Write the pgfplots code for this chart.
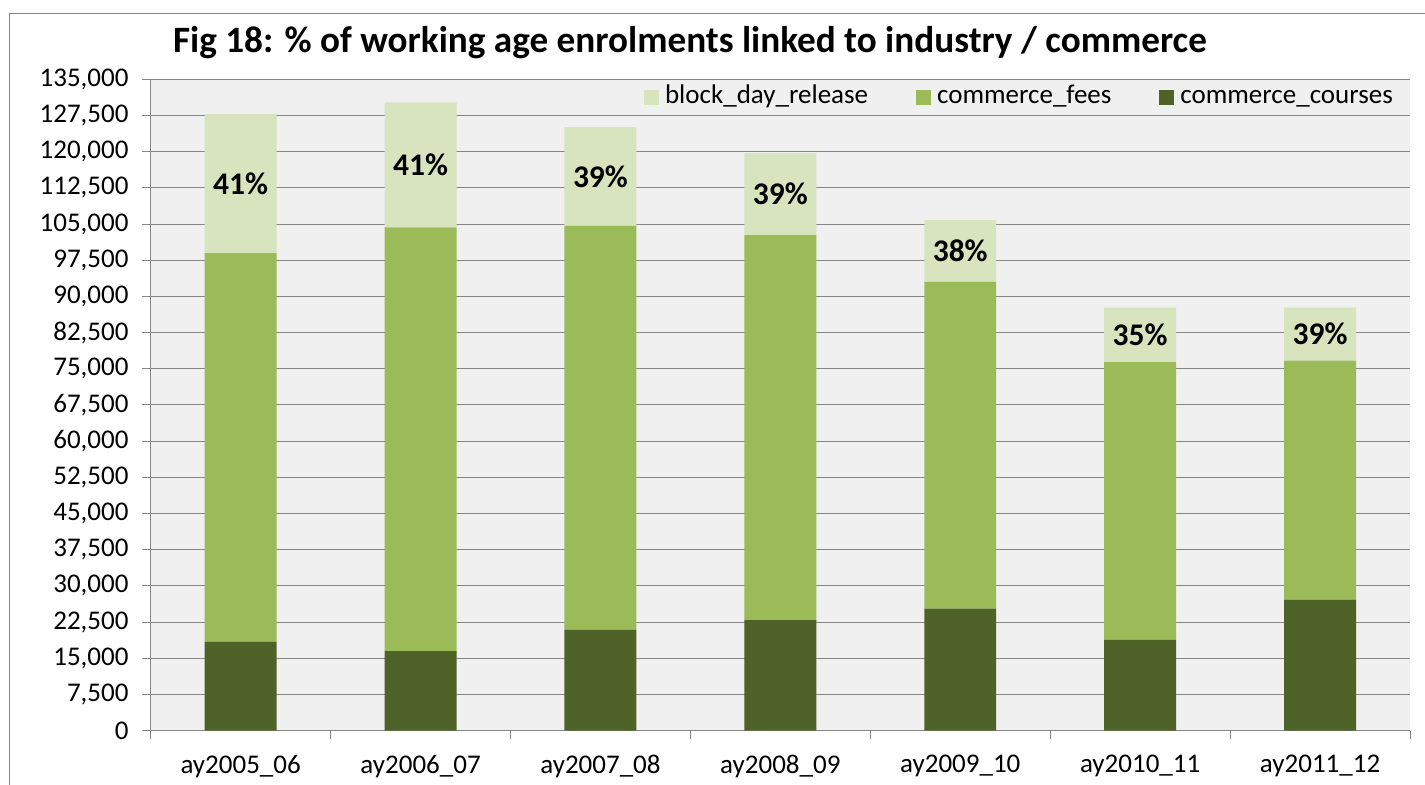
\documentclass[border=0pt]{standalone}
\usepackage{fontspec}
\setmainfont{Carlito}
\usepackage{pgfplots}
\usepackage{pgfplotstable}
\pgfplotsset{compat=1.18}
\definecolor{cbdr}{HTML}{D7E4BD}
\definecolor{cfees}{HTML}{9BBB59}
\definecolor{ccourses}{HTML}{4F6228}
\definecolor{gridc}{HTML}{868686}
\definecolor{plotbg}{HTML}{F0F0F0}

\pgfplotstableread{
x courses fees block
0 18400 80600 28800
1 16500 87800 25900
2 20900 83700 20500
3 22900 79800 17000
4 25300 67700 12800
5 18900 57500 11300
6 27100 49600 11000
}\datatable

\pgfplotstableread{
x y label
0 113400 41\%
1 117250 41\%
2 114850 39\%
3 111200 39\%
4 99400 38\%
5 82050 35\%
6 82200 39\%
}\labeltable

\pgfplotsset{sqleg/.style={legend image code/.code={\fill[##1,draw=none] (0bp,-7.5bp) rectangle (15bp,7.5bp);}}}

\begin{document}
\begin{tikzpicture}
\useasboundingbox (0,0) rectangle (1425bp,785bp);
\fill[white] (0,0) rectangle (1425bp,785bp);
\draw[gridc, line width=1bp] (9.3bp,0) -- (9.3bp,771.7bp) -- (1425bp,771.7bp);
\node[anchor=base, font=\bfseries\fontsize{37.2bp}{40bp}\selectfont] at (690bp,732.7bp) {Fig 18: \% of working age enrolments linked to industry / commerce};
\begin{axis}[
  at={(150.7bp,54.3bp)}, anchor=south west,
  scale only axis, width=1259.3bp, height=651.4bp,
  ybar stacked, bar width=0.4,
  xmin=-0.5, xmax=6.5, ymin=0, ymax=135000,
  axis background/.style={fill=plotbg},
  axis x line*=bottom, axis y line*=left,
  axis line style={draw=gridc, line width=1bp, -},
  ytick={0,7500,...,135000},
  scaled y ticks=false,
  yticklabel style={xshift=-10bp, /pgf/number format/.cd, fixed, 1000 sep={,}, assume math mode=true},
  ymajorgrids, grid style={draw=gridc, line width=1bp},
  tick align=outside,
  major tick length=8.7bp,
  tick style={draw=gridc, line width=1bp},
  xtick={-0.5,0.5,1.5,2.5,3.5,4.5,5.5,6.5},
  xticklabels={},
  extra x ticks={0,1,2,3,4,5,6},
  extra x tick labels={ay2005\_06,ay2006\_07,ay2007\_08,ay2008\_09,ay2009\_10,ay2010\_11,ay2011\_12},
  extra x tick style={major tick length=0pt, grid=none, xticklabel style={yshift=-21bp}},
  tick label style={font=\fontsize{27bp}{31bp}\selectfont},
  legend style={at={(0.9905,0.972)}, anchor=east, draw=none, fill=none,
    font=\fontsize{27bp}{31bp}\selectfont,
    nodes={text height=19bp, text depth=7bp},
    /tikz/every odd column/.append style={column sep=4bp},
    /tikz/every even column/.append style={column sep=46bp}},
  legend columns=3,
  reverse legend,
]
\addplot[fill=ccourses, draw=none, sqleg] table[x=x,y=courses]{\datatable};
\addplot[fill=cfees, draw=none, sqleg] table[x=x,y=fees]{\datatable};
\addplot[fill=cbdr, draw=none, sqleg] table[x=x,y=block]{\datatable};
\legend{commerce\_courses,commerce\_fees,block\_day\_release}
\end{axis}
\begin{axis}[
  at={(150.7bp,54.3bp)}, anchor=south west,
  scale only axis, width=1259.3bp, height=651.4bp,
  xmin=-0.5, xmax=6.5, ymin=0, ymax=135000,
  hide axis, clip=false,
]
\addplot[only marks, mark=*, mark size=0pt, mark options={draw=none,fill=none},
  nodes near coords, point meta=explicit symbolic,
  every node near coord/.append style={anchor=center, font=\bfseries\fontsize{31.5bp}{34bp}\selectfont}]
  table[x=x,y=y,meta=label]{\labeltable};
\end{axis}
\end{tikzpicture}
\end{document}
